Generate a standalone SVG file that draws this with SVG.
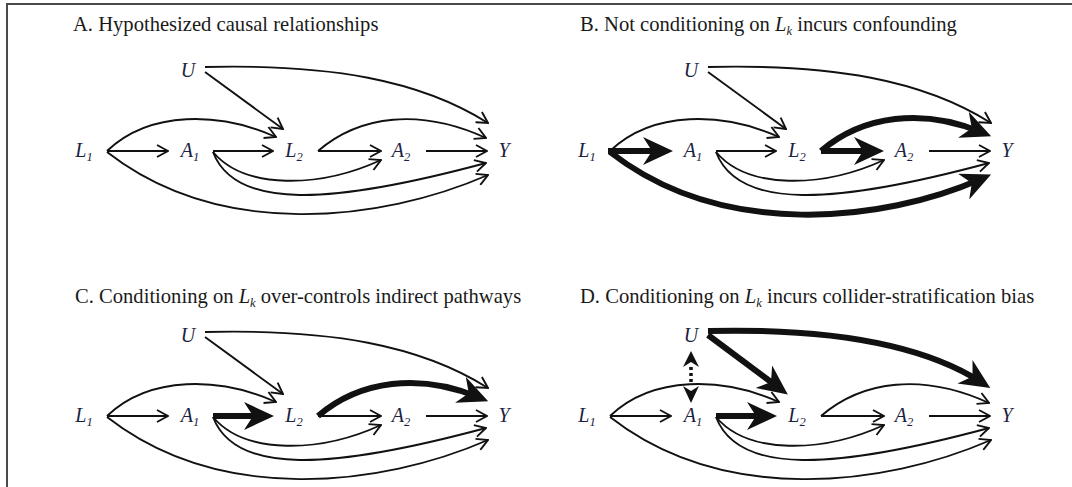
<svg xmlns="http://www.w3.org/2000/svg" width="1072" height="487" viewBox="0 0 1072 487">
<defs>
<style>
.t{font-family:"Liberation Serif","Times New Roman",serif;font-size:20.6px;fill:#1a1a1a}
.n{font-family:"Liberation Serif","Times New Roman",serif;font-style:italic;font-size:20px;fill:#1b2240}
.s{font-size:12.5px}
.e{fill:none;stroke:#111;stroke-width:1.9;marker-end:url(#thin)}
.E{fill:none;stroke:#111;stroke-width:6;marker-end:url(#thick)}
</style>
<marker id="thin" viewBox="-1 -1 13 14" markerUnits="userSpaceOnUse" markerWidth="13" markerHeight="14" refX="11" refY="6" orient="auto">
<path d="M0,0 L11,6 L0,12" fill="none" stroke="#111" stroke-width="1.9"/>
</marker>
<marker id="thick" viewBox="0 0 30 28" markerUnits="userSpaceOnUse" markerWidth="30" markerHeight="28" refX="19" refY="14" orient="auto">
<path d="M0,0 L30,14 L0,28 L9,14 Z" fill="#111"/>
</marker>
</defs>
<rect width="1072" height="487" fill="#fff"/>
<path d="M7,487 L7,4 L1072,4" fill="none" stroke="#4a4a4a" stroke-width="2"/>

<text class="t" x="73" y="31">A. Hypothesized causal relationships</text>
<text class="t" x="580" y="31">B. Not conditioning on <tspan font-style="italic">L</tspan><tspan font-style="italic" class="s" dy="4">k</tspan><tspan dy="-4"> incurs confounding</tspan></text>
<text class="t" x="75" y="303">C. Conditioning on <tspan font-style="italic">L</tspan><tspan font-style="italic" class="s" dy="4">k</tspan><tspan dy="-4"> over-controls indirect pathways</tspan></text>
<text class="t" x="580" y="303">D. Conditioning on <tspan font-style="italic">L</tspan><tspan font-style="italic" class="s" dy="4">k</tspan><tspan dy="-4"> incurs collider-stratification bias</tspan></text>

<!-- Panel A -->
<g id="panelA">
<g id="A-edges">
<path class="e" d="M205,72 L283,129"/>
<path class="e" d="M205,67 C330,64 420,80 488,123"/>
<path class="e" d="M107,151 L168,151"/>
<path class="e" d="M107,151 C150,110 220,112 276,137"/>
<path class="e" d="M107,152 C220,240 380,222 488,175"/>
<path class="e" d="M213,151 L273,151"/>
<path class="e" d="M213,152 C245,190 320,188 381,160"/>
<path class="e" d="M213,152 C235,210 330,205 486,163"/>
<path class="e" d="M318,151 L381,151"/>
<path class="e" d="M318,151 C360,115 420,108 486,138"/>
<path class="e" d="M426,151 L487,151"/>
</g>
<g id="A-U"><text class="n" x="188" y="77" text-anchor="middle">U</text></g>
<g id="A-L1"><text class="n" x="84" y="157" text-anchor="middle">L<tspan class="s" dy="4">1</tspan></text></g>
<g id="A-A1"><text class="n" x="190" y="157" text-anchor="middle">A<tspan class="s" dy="4">1</tspan></text></g>
<g id="A-L2"><text class="n" x="294" y="157" text-anchor="middle">L<tspan class="s" dy="4">2</tspan></text></g>
<g id="A-A2"><text class="n" x="401" y="157" text-anchor="middle">A<tspan class="s" dy="4">2</tspan></text></g>
<g id="A-Y"><text class="n" x="504" y="157" text-anchor="middle">Y</text></g>
</g>

<!-- Panel B -->
<g id="panelB" transform="translate(503,0)">
<g id="B-edges">
<path class="e" d="M205,72 L283,129"/>
<path class="e" d="M205,67 C330,64 420,80 488,123"/>
<path class="E" d="M105,151 L159,151"/>
<path class="e" d="M107,151 C150,110 220,112 276,137"/>
<path class="E" d="M107,152 C220,240 380,222 478,179"/>
<path class="e" d="M213,151 L273,151"/>
<path class="e" d="M213,152 C245,190 320,188 381,160"/>
<path class="e" d="M213,152 C235,210 330,205 486,163"/>
<path class="E" d="M318,151 L370,151"/>
<path class="E" d="M318,151 C360,115 420,108 478,132"/>
<path class="e" d="M426,151 L487,151"/>
</g>
<g id="B-U"><text class="n" x="188" y="77" text-anchor="middle">U</text></g>
<g id="B-L1"><text class="n" x="84" y="157" text-anchor="middle">L<tspan class="s" dy="4">1</tspan></text></g>
<g id="B-A1"><text class="n" x="190" y="157" text-anchor="middle">A<tspan class="s" dy="4">1</tspan></text></g>
<g id="B-L2"><text class="n" x="294" y="157" text-anchor="middle">L<tspan class="s" dy="4">2</tspan></text></g>
<g id="B-A2"><text class="n" x="401" y="157" text-anchor="middle">A<tspan class="s" dy="4">2</tspan></text></g>
<g id="B-Y"><text class="n" x="504" y="157" text-anchor="middle">Y</text></g>
</g>

<!-- Panel C -->
<g id="panelC" transform="translate(0,265)">
<g id="C-edges">
<path class="e" d="M205,72 L283,129"/>
<path class="e" d="M205,67 C330,64 420,80 488,123"/>
<path class="e" d="M107,151 L168,151"/>
<path class="e" d="M107,151 C150,110 220,112 276,137"/>
<path class="e" d="M107,152 C220,240 380,222 488,175"/>
<path class="E" d="M213,151 L263,151"/>
<path class="e" d="M213,152 C245,190 320,188 381,160"/>
<path class="e" d="M213,152 C235,210 330,205 486,163"/>
<path class="e" d="M318,151 L381,151"/>
<path class="E" d="M318,151 C360,115 420,108 478,132"/>
<path class="e" d="M426,151 L487,151"/>
</g>
<g id="C-U"><text class="n" x="188" y="77" text-anchor="middle">U</text></g>
<g id="C-L1"><text class="n" x="84" y="157" text-anchor="middle">L<tspan class="s" dy="4">1</tspan></text></g>
<g id="C-A1"><text class="n" x="190" y="157" text-anchor="middle">A<tspan class="s" dy="4">1</tspan></text></g>
<g id="C-L2"><text class="n" x="294" y="157" text-anchor="middle">L<tspan class="s" dy="4">2</tspan></text></g>
<g id="C-A2"><text class="n" x="401" y="157" text-anchor="middle">A<tspan class="s" dy="4">2</tspan></text></g>
<g id="C-Y"><text class="n" x="504" y="157" text-anchor="middle">Y</text></g>
</g>

<!-- Panel D -->
<g id="panelD" transform="translate(503,265)">
<g id="D-edges">
<path class="E" d="M205,70 L276,123"/>
<path class="E" d="M205,66 C330,63 420,80 478,117"/>
<path class="e" d="M107,151 L168,151"/>
<path class="e" d="M107,151 C150,110 220,112 276,137"/>
<path class="e" d="M107,152 C220,240 380,222 488,175"/>
<path class="E" d="M213,151 L263,151"/>
<path class="e" d="M213,152 C245,190 320,188 381,160"/>
<path class="e" d="M213,152 C235,210 330,205 486,163"/>
<path class="e" d="M318,151 L381,151"/>
<path class="e" d="M318,151 C360,115 420,108 486,138"/>
<path class="e" d="M426,151 L487,151"/>
<g id="D-dashed">
<path d="M180,102 L188,86 L196,102 L188,97 Z" fill="#111"/>
<path d="M188,102 L188,119" stroke="#111" stroke-width="3.5" stroke-dasharray="3,3"/>
<path d="M180,121 L188,138 L196,121 L188,126 Z" fill="#111"/>
</g>
</g>
<g id="D-U"><text class="n" x="188" y="77" text-anchor="middle">U</text></g>
<g id="D-L1"><text class="n" x="84" y="157" text-anchor="middle">L<tspan class="s" dy="4">1</tspan></text></g>
<g id="D-A1"><text class="n" x="190" y="157" text-anchor="middle">A<tspan class="s" dy="4">1</tspan></text></g>
<g id="D-L2"><text class="n" x="294" y="157" text-anchor="middle">L<tspan class="s" dy="4">2</tspan></text></g>
<g id="D-A2"><text class="n" x="401" y="157" text-anchor="middle">A<tspan class="s" dy="4">2</tspan></text></g>
<g id="D-Y"><text class="n" x="504" y="157" text-anchor="middle">Y</text></g>
</g>
</svg>
